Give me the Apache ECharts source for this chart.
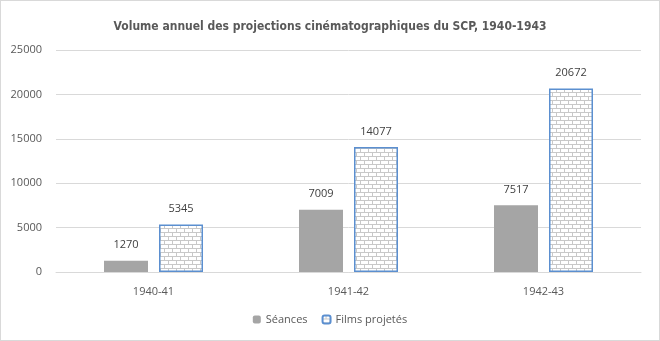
<!DOCTYPE html>
<html>
<head>
<meta charset="utf-8">
<script src="https://cdn.jsdelivr.net/npm/echarts@6/dist/echarts.min.js"></script>
<style>
  html, body { margin: 0; padding: 0; background: #fff; }
  #chart { width: 658px; height: 339px; border: 1px solid #d9d9d9; }
</style>
</head>
<body>
<div id="chart"></div>
<script>
const categories = ["1940-41", "1941-42", "1942-43"];
const seances = [1270, 7009, 7517];
const films = [5345, 14077, 20672];

// brick pattern for the second series
function brickPattern() {
  const c = document.createElement("canvas");
  c.width = 16;
  c.height = 8;
  const ctx = c.getContext("2d");
  ctx.fillStyle = "#ffffff";
  ctx.fillRect(0, 0, 16, 8);
  ctx.strokeStyle = "#c8c8c8";
  ctx.lineWidth = 1;
  ctx.beginPath();
  ctx.moveTo(0, 3.5); ctx.lineTo(16, 3.5);
  ctx.moveTo(0, 7.5); ctx.lineTo(16, 7.5);
  ctx.moveTo(3.5, 0); ctx.lineTo(3.5, 3.5);
  ctx.moveTo(11.5, 0); ctx.lineTo(11.5, 3.5);
  ctx.moveTo(7.5, 3.5); ctx.lineTo(7.5, 7.5);
  ctx.moveTo(15.5, 3.5); ctx.lineTo(15.5, 7.5);
  ctx.stroke();
  return c;
}

const chart = echarts.init(document.getElementById("chart"));
const labelStyle = {
  show: true,
  position: "top",
  distance: 10,
  color: "#404040",
  fontSize: 11,
  fontFamily: "Open Sans",
};

chart.setOption({
  animation: false,
  title: {
    text: "Volume annuel des projections cinématographiques du SCP, 1940-1943",
    left: "center",
    top: 15,
    textStyle: {
      fontFamily: "'DejaVu Sans Condensed', 'Liberation Sans', sans-serif",
      fontSize: 12,
      fontWeight: "bold",
      color: "#595959",
    },
  },
  legend: {
    bottom: 10,
    itemWidth: 8,
    itemHeight: 8,
    itemGap: 14,
    textStyle: { color: "#595959", fontSize: 11, fontFamily: "Open Sans" },
    data: ["Séances", "Films projetés"],
  },
  grid: {
    left: 55,
    right: 18,
    top: 49,
    bottom: 68,
  },
  xAxis: {
    type: "category",
    data: categories,
    axisLine: { lineStyle: { color: "#d9d9d9" } },
    axisTick: { show: false },
    axisLabel: { color: "#595959", fontSize: 11, fontFamily: "Open Sans", margin: 14 },
  },
  yAxis: {
    type: "value",
    min: 0,
    max: 25000,
    interval: 5000,
    axisLine: { show: false },
    axisTick: { show: false },
    splitLine: { lineStyle: { color: "#d9d9d9" } },
    axisLabel: {
      color: "#595959",
      fontSize: 11,
      fontFamily: "Open Sans",
      margin: 14,
      formatter: (v) => String(v),
    },
  },
  series: [
    {
      name: "Séances",
      type: "bar",
      data: seances,
      barWidth: 44,
      barGap: "25%",
      itemStyle: { color: "#a5a5a5" },
      label: labelStyle,
    },
    {
      name: "Films projetés",
      type: "bar",
      data: films,
      barWidth: 44,
      itemStyle: {
        color: { image: brickPattern(), repeat: "repeat" },
        borderColor: "#5b8fd0",
        borderWidth: 1.5,
      },
      label: labelStyle,
    },
  ],
});
</script>
</body>
</html>
